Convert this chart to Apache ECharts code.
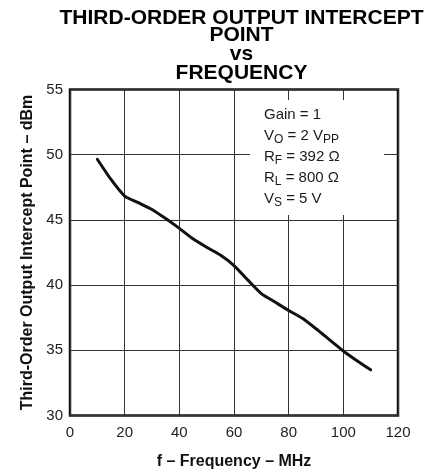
<!DOCTYPE html>
<html><head><meta charset="utf-8">
<script src="https://cdn.jsdelivr.net/npm/echarts@6/dist/echarts.min.js"></script>
<style>html,body{margin:0;padding:0;background:#fff}#c{width:438px;height:469px}</style>
</head><body><div id="c"></div>
<script>
const frequency = [10,15,20,25,30,35,40,45,50,55,60,65,70,75,80,85,90,95,100,105,110];
const interceptDbm = [49.65,48.1,46.83,46.32,45.8,45.1,44.35,43.55,42.9,42.3,41.5,40.4,39.35,38.7,38.05,37.45,36.65,35.8,34.95,34.2,33.5];
const xTicks = [0,20,40,60,80,100,120];
const yTicks = [30,35,40,45,50,55];
const titleLines = ['THIRD-ORDER OUTPUT INTERCEPT','POINT','vs','FREQUENCY'];
const conditions = ['Gain = 1','V{s|O} = 2 V{s|PP}','R{s|F} = 392 Ω','R{s|L} = 800 Ω','V{s|S} = 5 V'];
const xName = 'f – Frequency – MHz';
const yName = 'Third-Order Output Intercept Point – dBm';

const FONT = '"Liberation Sans", Arial, Helvetica, sans-serif';
const chart = echarts.init(document.getElementById('c'), null, {renderer:'canvas'});
const titleY = [18.5, 35.5, 54.5, 73.5];
const graphics = titleLines.map((t,i)=>({
  type:'text', x:241.5, y:titleY[i], z:10,
  style:{text:t, font:'bold 21px '+FONT, fill:'#000', textAlign:'center', textVerticalAlign:'middle'}
}));
graphics.push({type:'rect', z:5, shape:{x:250,y:100,width:134,height:115}, style:{fill:'#fff'}});
graphics.push({type:'text', z:10, x:264, y:104,
  style:{text:conditions.join('\n'), fontFamily:FONT, fontSize:15, lineHeight:21, fill:'#1a1a1a',
    textAlign:'left', textVerticalAlign:'top',
    rich:{s:{fontFamily:FONT, fontSize:12, fill:'#1a1a1a', padding:[9,0,0,0]}}}
});
chart.setOption({
  animation:false,
  backgroundColor:'#fff',
  grid:{left:70, top:89.5, width:328, height:326, show:true, borderColor:'#111', borderWidth:2.5,
    backgroundColor:'transparent', containLabel:false, outerBoundsMode:'none'},
  xAxis:{type:'value', min:xTicks[0], max:xTicks[xTicks.length-1], interval:xTicks[1]-xTicks[0],
    axisLine:{show:false}, axisTick:{show:false},
    splitLine:{show:true, lineStyle:{color:'#333', width:1}},
    axisLabel:{color:'#222', fontSize:15, fontFamily:FONT, margin:10},
    name:xName, nameLocation:'middle', nameGap:38,
    nameTextStyle:{color:'#111', fontSize:16, fontWeight:'bold', fontFamily:FONT}},
  yAxis:{type:'value', min:yTicks[0], max:yTicks[yTicks.length-1], interval:yTicks[1]-yTicks[0],
    axisLine:{show:false}, axisTick:{show:false},
    splitLine:{show:true, lineStyle:{color:'#333', width:1}},
    axisLabel:{color:'#222', fontSize:15, fontFamily:FONT, margin:7},
    name:yName, nameLocation:'middle', nameGap:34,
    nameTextStyle:{color:'#111', fontSize:16, fontWeight:'bold', fontFamily:FONT}},
  series:[{type:'line', data:frequency.map((f,i)=>[f, interceptDbm[i]]), showSymbol:false, smooth:0.2,
    lineStyle:{color:'#111', width:3, cap:'round', join:'round'}}],
  graphic:graphics
});
</script></body></html>
